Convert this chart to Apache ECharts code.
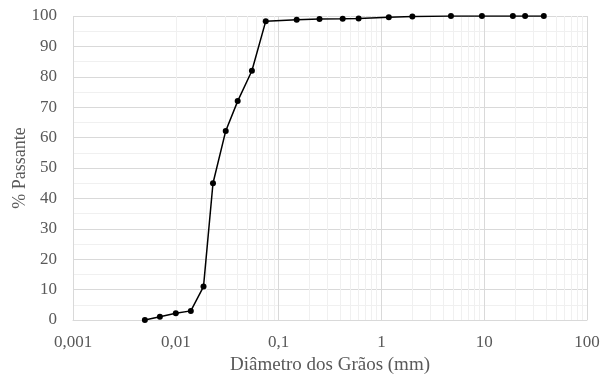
<!DOCTYPE html>
<html><head><meta charset="utf-8">
<script src="https://cdn.jsdelivr.net/npm/echarts@6/dist/echarts.min.js"></script>
<style>html,body{margin:0;padding:0;background:#fff}#c{width:602px;height:374px}</style>
</head><body><div id="c"></div>
<script>
const diameters = [0.005, 0.007, 0.01, 0.014, 0.0186, 0.023, 0.0306, 0.040, 0.055, 0.075, 0.15, 0.25, 0.42, 0.6, 1.18, 2.0, 4.75, 9.5, 19, 25, 38];
const passing   = [0, 1.1, 2.2, 3.0, 11, 45, 62.2, 72, 82, 98.3, 98.8, 99.0, 99.1, 99.2, 99.6, 99.8, 100, 100, 100, 100, 100];
const xTickLabels = {0.001:'0,001', 0.01:'0,01', 0.1:'0,1', 1:'1', 10:'10', 100:'100'};
const minorLogLines = [];
[0.001, 0.01, 0.1, 1, 10].forEach(d => { for (let k = 2; k <= 9; k++) minorLogLines.push(+(d * k).toPrecision(3)); });

const font = 'Liberation Serif';
const chart = echarts.init(document.getElementById('c'), null, {renderer: 'canvas'});
chart.setOption({
  animation: false,
  grid: {left: 73, right: 15, top: 16, bottom: 54, containLabel: false, outerBoundsMode: 'none'},
  xAxis: {
    type: 'log', logBase: 10, min: 0.001, max: 100,
    name: 'Diâmetro dos Grãos (mm)', nameLocation: 'middle', nameGap: 33,
    nameTextStyle: {fontFamily: font, fontSize: 19, color: '#595959'},
    axisLine: {show: true, lineStyle: {color: '#d9d9d9'}},
    axisTick: {show: false},
    axisLabel: {fontFamily: font, fontSize: 17, color: '#595959', margin: 14,
      formatter: v => { for (const k in xTickLabels) { if (Math.abs(Math.log10(v) - Math.log10(+k)) < 1e-6) return xTickLabels[k]; } return ''; }},
    splitLine: {show: true, lineStyle: {color: '#d9d9d9', width: 1}}
  },
  yAxis: {
    type: 'value', min: 0, max: 100, interval: 10,
    name: '% Passante', nameLocation: 'middle', nameGap: 44, nameMoveOverlap: false,
    nameTextStyle: {fontFamily: font, fontSize: 18, color: '#595959'},
    axisLine: {show: false}, axisTick: {show: false},
    axisLabel: {fontFamily: font, fontSize: 17, color: '#595959', margin: 16},
    splitLine: {show: true, lineStyle: {color: '#d9d9d9', width: 1}},
    minorTick: {show: false, splitNumber: 2},
    minorSplitLine: {show: true, lineStyle: {color: '#f0f0f0', width: 1}}
  },
  series: [{
    type: 'line',
    data: diameters.map((d, i) => [d, passing[i]]),
    symbol: 'circle', symbolSize: 6,
    itemStyle: {color: '#000'},
    lineStyle: {color: '#000', width: 1.5},
    z: 5,
    markLine: {
      silent: true, symbol: 'none', label: {show: false},
      lineStyle: {color: '#f0f0f0', width: 1, type: 'solid'},
      z: 1,
      data: minorLogLines.map(v => ({xAxis: v}))
    }
  }]
});
</script></body></html>
